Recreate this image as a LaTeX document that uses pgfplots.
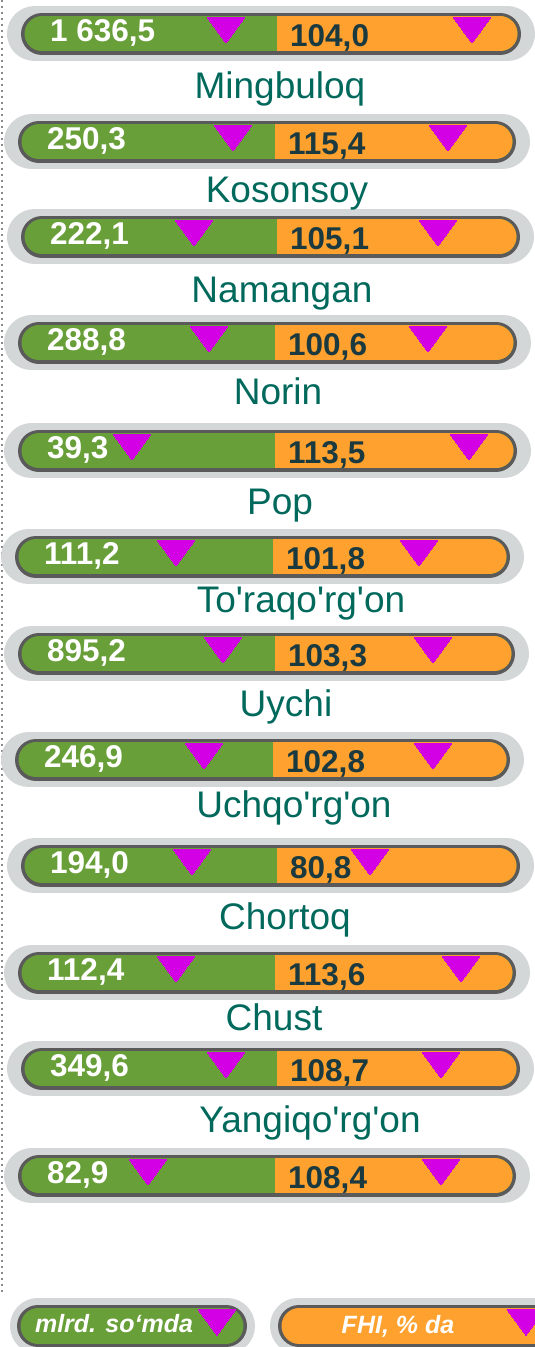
\documentclass[border=0pt]{standalone}
\usepackage{pgfplots}
\pgfplotsset{compat=1.18}
\usepackage{pgfplotstable}
\usepackage{fontspec}
\setmainfont{Liberation Sans}

\definecolor{halo}{HTML}{D4D7D7}
\definecolor{rim}{HTML}{5A5A5A}
\definecolor{grn}{HTML}{689F38}
\definecolor{org}{HTML}{FFA12E}
\definecolor{tri}{HTML}{D300E5}
\definecolor{teal}{HTML}{00695C}
\definecolor{ink}{HTML}{1A3A40}
\definecolor{dots}{HTML}{8A8A8A}

\newcommand\valfont{\fontsize{31.5}{31.5}\selectfont\bfseries}
\newcommand\namefont{\fontsize{37}{37}\selectfont}
\newcommand\legfont{\fontsize{25}{25}\selectfont\bfseries\itshape}
\newcommand\q{\textquotesingle}

% cy = row centre (px from top), xl/xm = left edge and split of the pill,
% g/o = where the markers sit, val = mlrd. so'm, fhi = % 
\pgfplotstableread{
cy    xl  xm   g    o    val     fhi
34    21  277  226  472  1636.5  104.0
142   18  275  233  448  250.3   115.4
237   21  277  194  438  222.1   105.1
343   18  275  209  428  288.8   100.6
451   18  275  132  469  39.3    113.5
557   15  273  176  419  111.2   101.8
654   18  275  223  433  895.2   103.3
760   15  273  204  433  246.9   102.8
866   21  277  192  370  194.0   80.8
973   18  275  176  461  112.4   113.6
1069  21  277  226  441  349.6   108.7
1176  18  275  148  441  82.9    108.4
}\rows

\begin{document}
\begin{tikzpicture}
\begin{axis}[
  x=1pt, y=1pt,
  xmin=0, xmax=535, ymin=-1347, ymax=0,
  hide axis, clip=true,
  unbounded coords=jump,
]
% dotted rule down the left edge
\addplot[color=dots, line width=1.6pt, dash pattern=on 2pt off 4pt]
  coordinates {(2,0)(2,-1292)};

% pale halo behind each pill
\addplot[color=halo, line width=55pt, line cap=round] coordinates {
 (34.5,-34)(507.5,-34) (0,nan)
 (31.5,-142)(502.5,-142) (0,nan)
 (34.5,-237)(506.5,-237) (0,nan)
 (31.5,-343)(503.5,-343) (0,nan)
 (31.5,-451)(503.5,-451) (0,nan)
 (28.5,-557)(496.5,-557) (0,nan)
 (31.5,-654)(501.5,-654) (0,nan)
 (28.5,-760)(496.5,-760) (0,nan)
 (34.5,-866)(506.5,-866) (0,nan)
 (31.5,-973)(502.5,-973) (0,nan)
 (34.5,-1069)(506.5,-1069) (0,nan)
 (31.5,-1176)(502.5,-1176) (0,nan)
 (37.5,-1326)(227.5,-1326) (0,nan)
 (297.5,-1326)(600,-1326)
};
% dark rim
\addplot[color=rim, line width=42pt, line cap=round] coordinates {
 (42,-34)(500,-34) (0,nan)
 (39,-142)(495,-142) (0,nan)
 (42,-237)(499,-237) (0,nan)
 (39,-343)(496,-343) (0,nan)
 (39,-451)(496,-451) (0,nan)
 (36,-557)(489,-557) (0,nan)
 (39,-654)(494,-654) (0,nan)
 (36,-760)(489,-760) (0,nan)
 (42,-866)(499,-866) (0,nan)
 (39,-973)(495,-973) (0,nan)
 (42,-1069)(499,-1069) (0,nan)
 (39,-1176)(495,-1176) (0,nan)
 (38,-1326)(226,-1326) (0,nan)
 (299,-1326)(560,-1326)
};
% green fill over the whole inside
\addplot[color=grn, line width=35pt, line cap=round] coordinates {
 (42,-34)(500,-34) (0,nan)
 (39,-142)(495,-142) (0,nan)
 (42,-237)(499,-237) (0,nan)
 (39,-343)(496,-343) (0,nan)
 (39,-451)(496,-451) (0,nan)
 (36,-557)(489,-557) (0,nan)
 (39,-654)(494,-654) (0,nan)
 (36,-760)(489,-760) (0,nan)
 (42,-866)(499,-866) (0,nan)
 (39,-973)(495,-973) (0,nan)
 (42,-1069)(499,-1069) (0,nan)
 (39,-1176)(495,-1176) (0,nan)
 (38,-1326)(226,-1326)
};
% orange right half: flat left end ...
\addplot[color=org, line width=35pt, line cap=butt] coordinates {
 (277,-34)(500,-34) (0,nan)
 (275,-142)(495,-142) (0,nan)
 (277,-237)(499,-237) (0,nan)
 (275,-343)(496,-343) (0,nan)
 (275,-451)(496,-451) (0,nan)
 (273,-557)(489,-557) (0,nan)
 (275,-654)(494,-654) (0,nan)
 (273,-760)(489,-760) (0,nan)
 (277,-866)(499,-866) (0,nan)
 (275,-973)(495,-973) (0,nan)
 (277,-1069)(499,-1069) (0,nan)
 (275,-1176)(495,-1176)
};
% ... and round right end
\addplot[color=org, line width=35pt, line cap=round] coordinates {
 (499,-34)(500,-34) (0,nan)
 (494,-142)(495,-142) (0,nan)
 (498,-237)(499,-237) (0,nan)
 (495,-343)(496,-343) (0,nan)
 (495,-451)(496,-451) (0,nan)
 (488,-557)(489,-557) (0,nan)
 (493,-654)(494,-654) (0,nan)
 (488,-760)(489,-760) (0,nan)
 (498,-866)(499,-866) (0,nan)
 (494,-973)(495,-973) (0,nan)
 (498,-1069)(499,-1069) (0,nan)
 (494,-1176)(495,-1176) (0,nan)
 (299,-1326)(560,-1326)
};

% magenta markers
\addplot[only marks, mark=triangle*, color=tri, mark size=21.9pt,
  mark options={rotate=180, yscale=0.79, line width=0pt}]
  table[x=g, y expr=-\thisrow{cy}+8.3]{\rows};
\addplot[only marks, mark=triangle*, color=tri, mark size=21.9pt,
  mark options={rotate=180, yscale=0.79, line width=0pt}]
  table[x=o, y expr=-\thisrow{cy}+8.3]{\rows};
\addplot[only marks, mark=triangle*, color=tri, mark size=21.9pt,
  mark options={rotate=180, yscale=0.79, line width=0pt}]
  coordinates {(217,-1318) (526,-1318)};

% value labels
\addplot[draw=none, mark=none, point meta=explicit,
  nodes near coords={\pgfmathprintnumber[fixed, zerofill, precision=1,
    use comma, 1000 sep={\ }, assume math mode=true]{\pgfplotspointmeta}},
  every node near coord/.append style={anchor=base west, inner sep=0pt,
    text=white, font=\valfont}]
  table[x expr=\thisrow{xl}+29, y expr=-\thisrow{cy}-8, meta=val]{\rows};
\addplot[draw=none, mark=none, point meta=explicit,
  nodes near coords={\pgfmathprintnumber[fixed, zerofill, precision=1,
    use comma, assume math mode=true]{\pgfplotspointmeta}},
  every node near coord/.append style={anchor=base west, inner sep=0pt,
    text=ink, font=\valfont}]
  table[x expr=\thisrow{xm}+13, y expr=-\thisrow{cy}-13, meta=fhi]{\rows};

% district names
\begin{scope}[every node/.style={anchor=base, inner sep=0pt, text=teal, font=\namefont}]
\node at (axis cs:280,-99) {Mingbuloq};
\node at (axis cs:287,-203) {Kosonsoy};
\node at (axis cs:282,-303) {Namangan};
\node at (axis cs:278,-405) {Norin};
\node at (axis cs:280,-515) {Pop};
\node at (axis cs:301,-613) {To\q raqo\q rg\q on};
\node at (axis cs:286,-717) {Uychi};
\node at (axis cs:294,-818) {Uchqo\q rg\q on};
\node at (axis cs:285,-930) {Chortoq};
\node at (axis cs:274,-1031) {Chust};
\node at (axis cs:310,-1133) {Yangiqo\q rg\q on};
\end{scope}

% legend text
\node[anchor=base, inner sep=0pt, text=white, font=\legfont] at (axis cs:114,-1333) {mlrd. so‘mda};
\node[anchor=base, inner sep=0pt, text=white, font=\legfont] at (axis cs:398,-1334) {FHI, \% da};
\end{axis}
\pgfresetboundingbox
\useasboundingbox (current axis.south west) rectangle (current axis.north east);
\end{tikzpicture}
\end{document}
